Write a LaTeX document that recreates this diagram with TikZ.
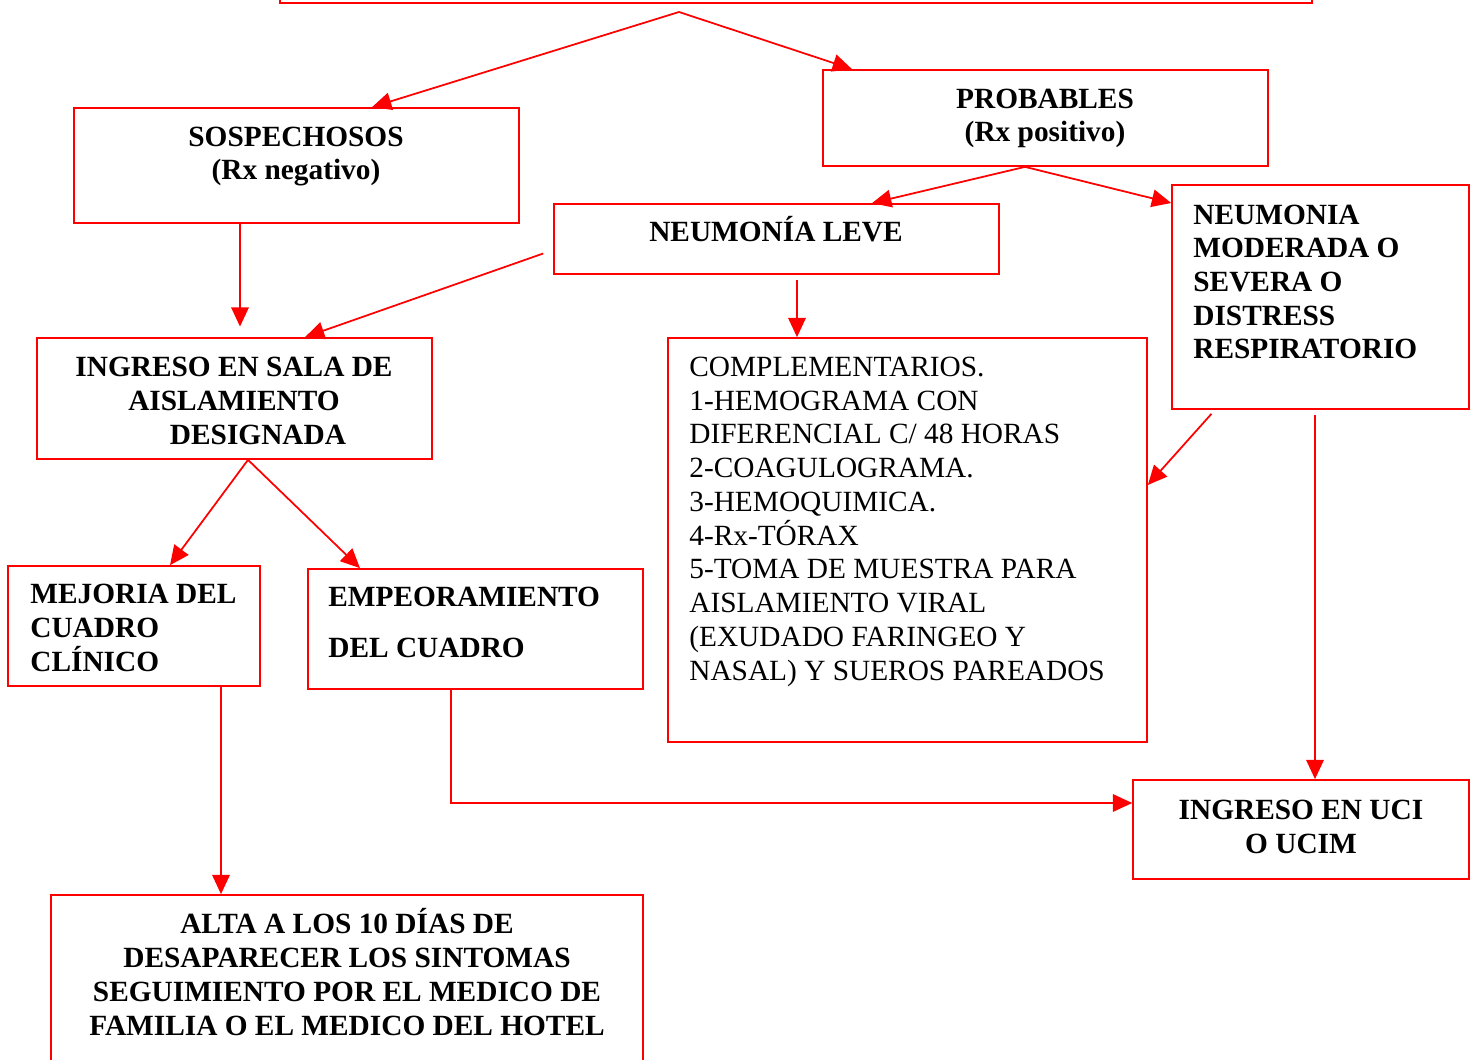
\documentclass[tikz,border=0pt]{standalone}
\usepackage{fontspec}
\setmainfont{Liberation Serif}
\definecolor{flowred}{RGB}{255,0,0}
\usetikzlibrary{arrows.meta,positioning,calc}

\begin{document}
\begin{tikzpicture}[x=0.02cm, y=-0.02cm,
  flowbox/.style={draw=flowred, line width=1pt, rectangle, inner sep=0pt},
  boldtxt/.style={font=\fontsize{16.7}{19.2}\selectfont\bfseries, inner sep=0pt},
  plaintxt/.style={font=\fontsize{16.7}{19.2}\selectfont, inner sep=0pt, align=left},
  flowarrow/.style={draw=flowred, line width=1pt, -{Triangle[length=11pt,width=10pt]}}]

\useasboundingbox (0,0) rectangle (1476,1060);

% Boxes
\node[flowbox, minimum width=20.64cm, minimum height=1.26cm] (top) at (796,-28.5) {};
\node[flowbox, minimum width=8.9cm, minimum height=2.3cm] (sosp) at (296.5,165.5) {};
\node[flowbox, minimum width=8.9cm, minimum height=1.92cm] (prob) at (1045.5,118) {};
\node[flowbox, minimum width=8.9cm, minimum height=1.4cm] (leve) at (776.5,239) {};
\node[flowbox, minimum width=5.94cm, minimum height=4.48cm] (moder) at (1320.5,297) {};
\node[flowbox, minimum width=7.9cm, minimum height=2.42cm] (sala) at (234.5,398.5) {};
\node[flowbox, minimum width=9.58cm, minimum height=8.08cm] (compl) at (907.5,540) {};
\node[flowbox, minimum width=6.72cm, minimum height=1.98cm] (uci) at (1301,829.5) {};
\node[flowbox, minimum width=5.04cm, minimum height=2.4cm] (mejor) at (134,626) {};
\node[flowbox, minimum width=6.7cm, minimum height=2.4cm] (empeor) at (475.5,629) {};
\node[flowbox, minimum width=11.84cm, minimum height=4.5cm] (alta) at (347,1007.5) {};

% Texts (base = last line)
\node[boldtxt, align=center, anchor=base] (sospT) at (296,180) {SOSPECHOSOS\\(Rx negativo)};
\node[boldtxt, align=center, anchor=base] (probT) at (1045,142) {PROBABLES\\(Rx positivo)};
\node[boldtxt, anchor=base] (leveT) at (776,242) {NEUMONÍA LEVE};
\node[boldtxt, align=left, anchor=base west] (moderT) at (1193,359)
  {NEUMONIA\\MODERADA O\\SEVERA O\\DISTRESS\\RESPIRATORIO};
\node[boldtxt, align=center, anchor=base] (salaT) at (234,444)
  {INGRESO EN SALA DE\\AISLAMIENTO\\\hspace*{0.96cm}DESIGNADA};
\node[plaintxt, anchor=base west] (complT) at (689,680)
  {COMPLEMENTARIOS.\\1-HEMOGRAMA CON\\DIFERENCIAL C/ 48 HORAS\\2-COAGULOGRAMA.\\3-HEMOQUIMICA.\\4-Rx-TÓRAX\\5-TOMA DE MUESTRA PARA\\AISLAMIENTO VIRAL\\(EXUDADO FARINGEO Y\\NASAL) Y SUEROS PAREADOS};
\node[boldtxt, align=center, anchor=base] (uciT) at (1301,853) {INGRESO EN UCI\\O UCIM};
\node[boldtxt, align=left, anchor=base west] (mejorT) at (30,671) {MEJORIA DEL\\CUADRO\\CLÍNICO};
\node[boldtxt, align=left, anchor=base west] (empeorT) at (328,657) {EMPEORAMIENTO\\[0.34cm]DEL CUADRO};
\node[boldtxt, align=center, anchor=base] (altaT) at (347,1035)
  {ALTA A LOS 10 DÍAS DE\\DESAPARECER LOS SINTOMAS\\SEGUIMIENTO POR EL MEDICO DE\\FAMILIA O EL MEDICO DEL HOTEL};

% Connecting arrows
\coordinate (split) at (679,12);
\draw[flowarrow] (split) -- (372,0 |- sosp.north);
\draw[flowarrow] (split) -- (852,0 |- prob.north);
\draw[flowarrow] (1025,0 |- prob.south) -- (872,0 |- leve.north);
\draw[flowarrow] (1025,0 |- prob.south) -- (moder.west |- 0,203);
\draw[flowarrow, shorten >=6pt] (240,0 |- sosp.south) -- (240,0 |- sala.north);
\draw[flowarrow, shorten <=6pt] (leve.west |- 0,250) -- (305,0 |- sala.north);
\draw[flowarrow, shorten <=3pt] (797,0 |- leve.south) -- (797,0 |- compl.north);
\draw[flowarrow, shorten <=3pt] (1215,0 |- moder.south) -- (compl.east |- 0,485);
\draw[flowarrow, shorten <=3pt] (1315,0 |- moder.south) -- (1315,0 |- uci.north);
\draw[flowarrow] (248,0 |- sala.south) -- (170,0 |- mejor.north);
\draw[flowarrow] (248,0 |- sala.south) -- (360,0 |- empeor.north);
\draw[flowarrow] (221,0 |- mejor.south) -- (221,0 |- alta.north);
\draw[flowarrow] (451,0 |- empeor.south) |- (uci.west |- 0,803);

\end{tikzpicture}
\end{document}
